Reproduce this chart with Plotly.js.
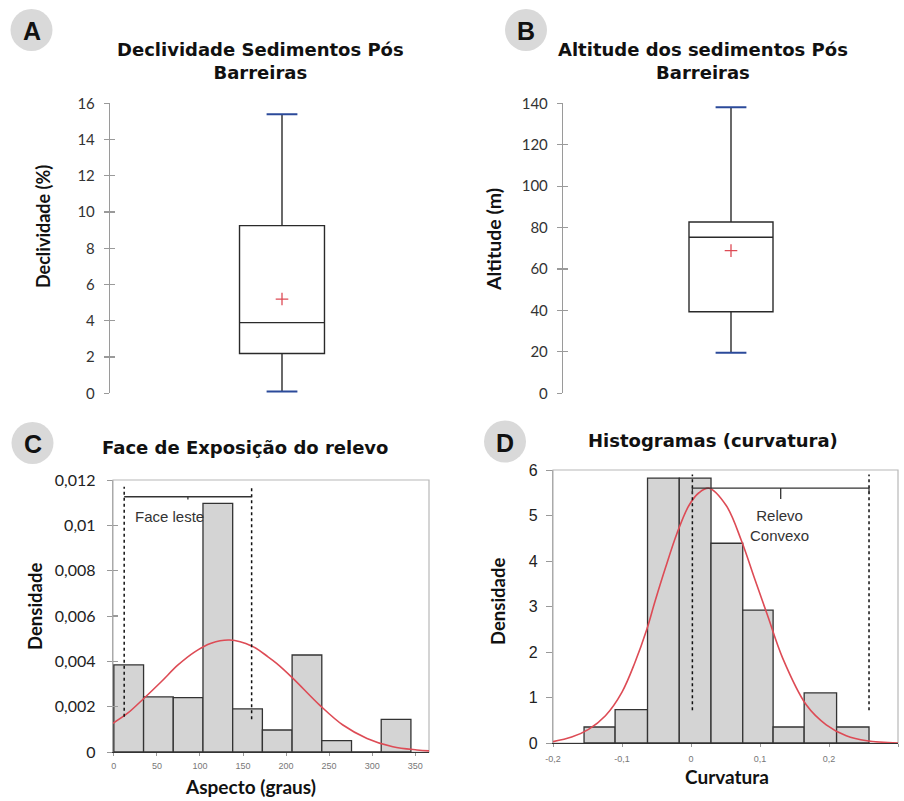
<!DOCTYPE html>
<html>
<head>
<meta charset="utf-8">
<script src="https://cdn.plot.ly/plotly-3.0.1.min.js"></script>
<style>html,body{margin:0;padding:0;background:#fff;}#chart{width:904px;height:801px;}</style>
</head>
<body>
<div id="chart"></div>
<script>
// ---------- data ----------
// A: Declividade (%) box plot statistics
const declivWhiskers = [0.1, 15.4];          // lower, upper
const declivQuartiles = [2.2, 3.9, 9.25];    // q1, median, q3
const declivMean = [5.2];
// B: Altitude (m) box plot statistics
const altitudeWhiskers = [19.6, 138.1];
const altitudeQuartiles = [39.4, 75.3, 82.7];
const altitudeMean = [68.9];
// C: Aspecto histogram
const aspectEdges = [0, 34.5, 69, 103.5, 138, 172.5, 207, 241.5, 276, 310.5, 345];
const aspectDensity = [0.00384, 0.00243, 0.0024, 0.01097, 0.0019, 0.00097, 0.00428, 0.0005, 0, 0.00144];
const aspectCurveX = [-1, 16, 35, 55, 74.5, 94, 113, 134.5, 160, 179, 189, 208, 239, 266, 294, 324, 352, 366];
const aspectCurveY = [0.00127, 0.00171, 0.00237, 0.0031, 0.00384, 0.00442, 0.0048, 0.00494, 0.00468, 0.0042, 0.00391, 0.00325, 0.00207, 0.00119, 0.0006, 0.00023, 0.00009, 0.00005];
const aspectTicks = [0, 50, 100, 150, 200, 250, 300, 350];
const faceLesteRange = [12, 160];
// D: Curvatura histogram
const curvEdges = [-0.155, -0.110, -0.063, -0.017, 0.029, 0.075, 0.119, 0.164, 0.211, 0.258];
const curvDensity = [0.352, 0.734, 5.82, 5.82, 4.39, 2.92, 0.352, 1.10, 0.352];
const curvCurveX = [-0.2, -0.173, -0.1485, -0.124, -0.1, -0.081, -0.064, -0.052, -0.037, -0.02, -0.003, 0.0115, 0.026, 0.051, 0.073, 0.092, 0.111, 0.133, 0.167, 0.196, 0.225, 0.255, 0.3];
const curvCurveY = [0.03, 0.13, 0.30, 0.60, 1.12, 1.78, 2.50, 3.12, 3.85, 4.62, 5.22, 5.50, 5.60, 5.22, 4.45, 3.62, 2.80, 1.86, 0.84, 0.40, 0.16, 0.05, 0.0];
const curvTickVals = [-0.2, -0.1, 0, 0.1, 0.2, 0.3];
const curvTickText = ['-0,2', '-0,1', '0', '0,1', '0,2', '0,3'];
const convexoRange = [0.002, 0.258];

// ---------- helpers ----------
const W = 904, H = 801;
const fx = p => p / W;
const fy = p => 1 - p / H;
const mids = e => e.slice(0, -1).map((v, i) => (v + e[i + 1]) / 2);
const widths = e => e.slice(0, -1).map((v, i) => e[i + 1] - v);

const BOXLINE = '#2a2a2a';
const CAP = '#2b4a9a';
const RED = '#dd4b55';
const BARFILL = '#d4d4d4';

function boxTraces(xa, ya, yaIn, q, wh, mean, width) {
  return [
    {type: 'box', xaxis: xa, yaxis: ya, x: [0], q1: [q[0]], median: [q[1]], q3: [q[2]],
     lowerfence: [wh[0]], upperfence: [wh[1]], width: width, whiskerwidth: 0,
     fillcolor: 'white', line: {color: BOXLINE, width: 1.4}, boxpoints: false, hoverinfo: 'skip', showlegend: false},
    {type: 'scatter', mode: 'markers', xaxis: xa, yaxis: ya, x: [0, 0], y: wh,
     marker: {symbol: 'line-ew', size: 22, line: {color: CAP, width: 2}}, hoverinfo: 'skip', showlegend: false},
    {type: 'scatter', mode: 'markers', xaxis: xa, yaxis: ya, x: [0], y: mean,
     marker: {symbol: 'cross-thin', size: 9, line: {color: RED, width: 1.3}}, hoverinfo: 'skip', showlegend: false},
    {type: 'scatter', xaxis: xa, yaxis: yaIn, x: [], y: [], showlegend: false, hoverinfo: 'skip'}
  ];
}

function histTraces(xa, ya, edges, dens, cx, cy) {
  return [
    {type: 'bar', xaxis: xa, yaxis: ya, x: mids(edges), y: dens, width: widths(edges),
     marker: {color: BARFILL, line: {color: '#333', width: 1.3}}, hoverinfo: 'skip', showlegend: false},
    {type: 'scatter', mode: 'lines', xaxis: xa, yaxis: ya, x: cx, y: cy,
     line: {color: RED, width: 1.6, shape: 'spline', smoothing: 1}, hoverinfo: 'skip', showlegend: false, cliponaxis: false}
  ];
}

function dashedPair(xa, ya, range, yBottom, yTop) {
  return range.map((xv, i) => ({type: 'scatter', mode: 'lines', xaxis: xa, yaxis: ya,
    x: [xv, xv], y: [yBottom[i], yTop], line: {color: '#111', width: 1.5, dash: 'dot'},
    hoverinfo: 'skip', showlegend: false}));
}

function bracket(xa, ya, range, yb, endDrop, midDrop) {
  const xm = (range[0] + range[1]) / 2;
  return {type: 'scatter', mode: 'lines', xaxis: xa, yaxis: ya,
    x: [range[0], range[0], xm, xm, xm, range[1], range[1]],
    y: [yb - endDrop, yb, yb, yb - midDrop, yb, yb, yb - endDrop],
    line: {color: '#333', width: 1.3}, hoverinfo: 'skip', showlegend: false};
}

const data = [
  ...boxTraces('x', 'y', 'y5', declivQuartiles, declivWhiskers, declivMean, 0.494),
  ...boxTraces('x2', 'y2', 'y6', altitudeQuartiles, altitudeWhiskers, altitudeMean, 0.5),
  ...histTraces('x3', 'y3', aspectEdges, aspectDensity, aspectCurveX, aspectCurveY),
  ...dashedPair('x3', 'y3', faceLesteRange, [0.00155, 0.00145], 0.0117),
  bracket('x3', 'y3', faceLesteRange, 0.01126, 0.0, 0.00012),
  {type: 'scatter', xaxis: 'x3', yaxis: 'y7', x: [], y: [], showlegend: false, hoverinfo: 'skip'},
  ...histTraces('x4', 'y4', curvEdges, curvDensity, curvCurveX, curvCurveY),
  ...dashedPair('x4', 'y4', convexoRange, [0.72, 0.72], 5.9),
  bracket('x4', 'y4', convexoRange, 5.60, 0.12, 0.24)
];

const tickFontLato = {family: 'Lato, sans-serif', size: 15, color: '#333'};
const hiddenX = {visible: false, range: [-1, 1], fixedrange: true};

function boxY(dom, range, dtick) {
  return {domain: dom, range: range, dtick: dtick, showline: true, linecolor: '#9a9a9a', linewidth: 1.2,
    ticks: 'outside', ticklen: 5, tickcolor: '#9a9a9a', tickwidth: 1.2, showgrid: false, zeroline: false,
    tickfont: tickFontLato, ticklabelstandoff: 6};
}
function inY(over, dom, range, dtick, xa) {
  return {overlaying: over, anchor: xa, domain: dom, range: range, dtick: dtick, showline: false,
    ticks: 'inside', ticklen: 5, tickcolor: '#9a9a9a', tickwidth: 1.2, showticklabels: false,
    showgrid: false, zeroline: false};
}

const domA = [fy(393.3), fy(103.3)];
const domC = [fy(752), fy(480)];
const domD = [fy(743), fy(470)];

const layout = {
  width: W, height: H, margin: {l: 0, r: 0, t: 0, b: 0},
  paper_bgcolor: 'white', plot_bgcolor: 'white', showlegend: false,
  separators: ',.', bargap: 0,
  xaxis: Object.assign({domain: [fx(110), fx(454)], anchor: 'y'}, hiddenX),
  yaxis: Object.assign(boxY(domA, [0, 16], 2), {anchor: 'x'}),
  yaxis5: inY('y', domA, [0, 16], 2, 'x'),
  xaxis2: Object.assign({domain: [fx(563), fx(899)], anchor: 'y2'}, hiddenX),
  yaxis2: Object.assign(boxY(domA, [0, 140], 20), {anchor: 'x2'}),
  yaxis6: inY('y2', domA, [0, 140], 20, 'x2'),
  xaxis3: {domain: [fx(113), fx(429)], anchor: 'y3', range: [-1, 366], tickvals: aspectTicks,
    showline: true, linecolor: '#333', linewidth: 1.3, ticks: 'outside', ticklen: 3, tickcolor: '#999',
    tickfont: {family: 'Liberation Sans, Arial', size: 9, color: '#777'}, ticklabelstandoff: 2,
    showgrid: false, zeroline: false},
  yaxis3: {domain: domC, anchor: 'x3', range: [0, 0.012], dtick: 0.002, showline: true, linecolor: '#aaa',
    linewidth: 1.2, ticks: 'outside', ticklen: 5, tickcolor: '#999', showgrid: false, zeroline: false,
    tickfont: {family: 'Lato, sans-serif', size: 16, color: '#222'}, ticklabelstandoff: 8},
  yaxis7: inY('y3', domC, [0, 0.012], 0.002, 'x3'),
  xaxis4: {domain: [fx(553), fx(898)], anchor: 'y4', range: [-0.2, 0.3], tickvals: curvTickVals, ticktext: curvTickText,
    showline: true, linecolor: '#333', linewidth: 1.3, ticks: 'outside', ticklen: 3, tickcolor: '#999',
    tickfont: {family: 'Liberation Sans, Arial', size: 9, color: '#777'}, ticklabelstandoff: 4,
    showgrid: false, zeroline: false},
  yaxis4: {domain: domD, anchor: 'x4', range: [0, 6], dtick: 1, showline: true, linecolor: '#aaa',
    linewidth: 1.2, ticks: 'outside', ticklen: 6, tickcolor: '#999', showgrid: false, zeroline: false,
    tickfont: {family: 'Liberation Sans, Arial', size: 16, color: '#222'}, ticklabelstandoff: 5},
  shapes: [],
  annotations: []
};

// panel frames (light grey) for C and D
[['x3', 'y3'], ['x4', 'y4']].forEach(([xa, ya]) => {
  layout.shapes.push({type: 'rect', xref: xa + ' domain', yref: ya + ' domain', x0: 0, x1: 1, y0: 0, y1: 1,
    line: {color: '#b8b8b8', width: 1.2}, fillcolor: 'rgba(0,0,0,0)', layer: 'below'});
});

// panel letter circles
const letters = [['A', 31.5, 30], ['B', 526, 30], ['C', 32.5, 443], ['D', 505, 441.5]];
letters.forEach(([t, cx, cy]) => {
  const r = 21;
  layout.shapes.push({type: 'circle', xref: 'paper', yref: 'paper', x0: fx(cx - r), x1: fx(cx + r),
    y0: fy(cy + r), y1: fy(cy - r), fillcolor: '#d9d9d9', line: {width: 0}, layer: 'below'});
  layout.annotations.push({text: '<b>' + t + '</b>', xref: 'paper', yref: 'paper', x: fx(cx), y: fy(cy + 1),
    showarrow: false, xanchor: 'center', yanchor: 'middle',
    font: {family: 'Liberation Sans, Arial', size: 25, color: '#111'}});
});

// titles
const titleFont = {family: 'DejaVu Sans, sans-serif', size: 18, color: '#111'};
[
  ['Declividade Sedimentos Pós<br>Barreiras', 260, 61],
  ['Altitude dos sedimentos Pós<br>Barreiras', 703, 61],
  ['Face de Exposição do relevo', 245, 447],
  ['Histogramas (curvatura)', 713, 440]
].forEach(([t, x, y]) => layout.annotations.push({text: '<b>' + t + '</b>', xref: 'paper', yref: 'paper',
  x: fx(x), y: fy(y), showarrow: false, xanchor: 'center', yanchor: 'middle', align: 'center', font: titleFont}));

// axis titles
[
  ['Declividade (%)', 43, 227, -90, 18],
  ['Altitude (m)', 493, 240, -90, 19.5],
  ['Densidade', 35, 607, -90, 18.5],
  ['Densidade', 498, 602, -90, 18.5],
  ['Aspecto (graus)', 250, 786, 0, 19],
  ['Curvatura', 727, 776, 0, 19]
].forEach(([t, x, y, a, s]) => layout.annotations.push({text: '<b>' + t + '</b>', xref: 'paper', yref: 'paper',
  x: fx(x), y: fy(y), showarrow: false, xanchor: 'center', yanchor: 'middle', textangle: a,
  font: {family: 'Lato, sans-serif', size: s, color: '#111'}}));

// in-plot labels
layout.annotations.push({text: 'Face leste', xref: 'x3', yref: 'y3', x: 65, y: 0.01038, showarrow: false,
  xanchor: 'center', yanchor: 'middle', font: {family: 'Liberation Sans, Arial', size: 15, color: '#333'}});
layout.annotations.push({text: 'Relevo<br>Convexo', xref: 'x4', yref: 'y4', x: 0.128, y: 4.78, showarrow: false,
  xanchor: 'center', yanchor: 'middle', align: 'center', font: {family: 'Liberation Sans, Arial', size: 15, color: '#333'}});

Plotly.newPlot('chart', data, layout, {staticPlot: true, displayModeBar: false});
</script>
</body>
</html>
